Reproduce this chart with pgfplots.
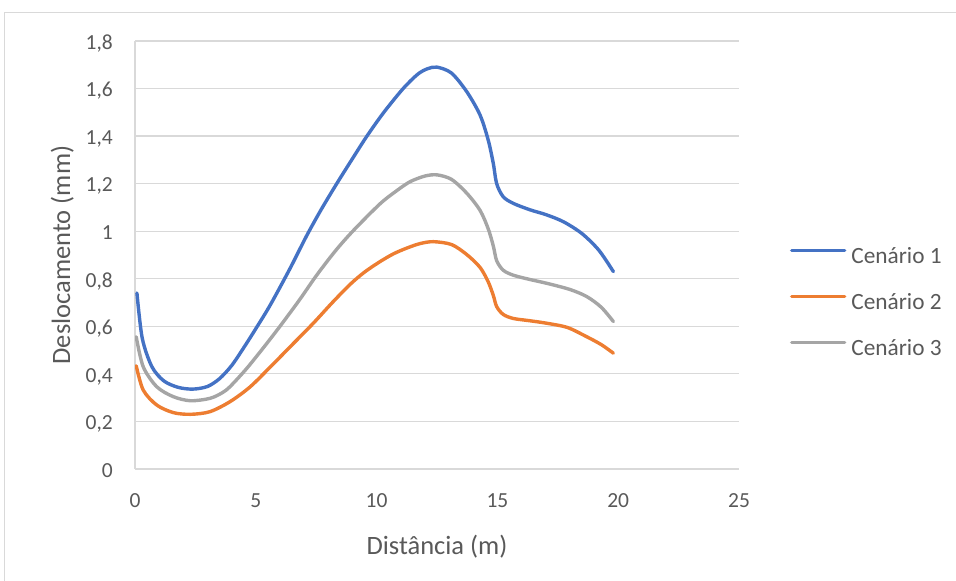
\documentclass[border=0pt]{standalone}
\usepackage{fontspec}
\setmainfont{Carlito}
\usepackage{pgfplots}
\pgfplotsset{compat=1.18}
\definecolor{serieA}{HTML}{4472C4}
\definecolor{serieB}{HTML}{ED7D31}
\definecolor{serieC}{HTML}{A5A5A5}
\definecolor{gridc}{HTML}{D9D9D9}
\definecolor{textc}{HTML}{595959}

\begin{document}
\begin{tikzpicture}[x=1bp,y=1bp]
\path[use as bounding box] (0,0) rectangle (956,581);
% chart area border
\draw[gridc, line width=1bp] (4.5,-2) -- (4.5,568.5) -- (960,568.5);
\begin{axis}[
  at={(135bp,112bp)}, anchor=south west,
  scale only axis, width=604bp, height=428bp,
  xmin=0, xmax=25, ymin=0, ymax=1.8,
  xtick={0,5,10,15,20,25},
  ytick={0,0.2,0.4,0.6,0.8,1,1.2,1.4,1.6,1.8},
  axis lines=left,
  axis line style={-, gridc, line width=1.2bp},
  major tick length=0pt,
  ymajorgrids,
  grid style={gridc, line width=1.2bp},
  /pgf/number format/assume math mode=true,
  /pgf/number format/use comma,
  tick label style={font=\fontsize{21.5bp}{25bp}\selectfont, text=textc, inner sep=0pt},
  yticklabel style={anchor=base east, xshift=-22bp, yshift=-8.3bp},
  xticklabel style={anchor=base, yshift=-39bp},
  xlabel={Distância (m)},
  ylabel={Deslocamento (mm)},
  label style={font=\fontsize{26.5bp}{30bp}\selectfont, text=textc, inner sep=0pt},
  x label style={at={(axis description cs:0.5,0)}, anchor=base, yshift=-86bp},
  y label style={at={(axis description cs:-0.1076,0.5)}, anchor=base},
  legend cell align=left,
  legend style={at={(1.0844,0.518)}, anchor=north west, draw=none, fill=none,
    inner sep=0pt, outer sep=0pt, row sep=25bp, column sep=5bp,
    font=\fontsize{23.3bp}{27bp}\selectfont, text=textc,
    nodes={inner sep=0pt, text height=16bp, text depth=5bp}},
  legend image code/.code={\draw[#1, line width=3.4bp] (0bp,7.5bp) -- (53bp,7.5bp);},
  every axis plot/.append style={line width=3.4bp, smooth, tension=0.5, line join=round, line cap=round, mark=none},
]
% Cenário 1
\addplot[serieA] coordinates {
 (0.08,0.74) (0.3,0.55) (0.7,0.43) (1.2,0.37) (1.8,0.343) (2.4,0.336)
 (3.0,0.347) (3.5,0.38) (4.0,0.435) (4.5,0.51) (5.0,0.59) (5.6,0.69)
 (6.4,0.84) (7.1,0.98) (7.7,1.09) (8.35,1.20) (9.0,1.305) (9.6,1.40)
 (10.3,1.50) (11.1,1.60) (11.7,1.66) (12.1,1.683) (12.5,1.69) (13.1,1.665)
 (13.73,1.587) (14.28,1.489) (14.62,1.383) (14.83,1.285) (14.97,1.20)
 (15.24,1.145) (15.66,1.117) (16.35,1.09) (17.0,1.07) (17.73,1.04) (18.5,0.99)
 (19.2,0.92) (19.8,0.83)
};
\addlegendentry{Cenário 1}
% Cenário 2
\addplot[serieB] coordinates {
 (0.05,0.434) (0.34,0.332) (0.9,0.269) (1.59,0.237) (2.3,0.23) (3.1,0.241)
 (3.93,0.283) (4.76,0.345) (5.59,0.428) (6.5,0.522) (7.38,0.613) (8.15,0.698)
 (8.9,0.776) (9.5,0.828) (10.14,0.872) (10.7,0.905) (11.25,0.929) (11.8,0.948)
 (12.35,0.956) (13.1,0.944) (13.73,0.902) (14.28,0.848) (14.62,0.787)
 (14.83,0.73) (14.97,0.683) (15.24,0.65) (15.66,0.633) (16.3,0.624)
 (17.04,0.613) (17.9,0.595) (18.7,0.556) (19.3,0.523) (19.8,0.487)
};
\addlegendentry{Cenário 2}
% Cenário 3
\addplot[serieC] coordinates {
 (0.05,0.556) (0.34,0.43) (0.9,0.346) (1.59,0.304) (2.3,0.287) (3.1,0.297)
 (3.6,0.32) (3.93,0.346) (4.6,0.42) (5.3,0.508) (6.0,0.60) (6.8,0.71)
 (7.52,0.815) (8.3,0.918) (9.04,1.003) (10.14,1.115) (10.8,1.168) (11.38,1.208)
 (12.0,1.232) (12.5,1.237) (13.1,1.218) (13.73,1.16) (14.28,1.088) (14.62,1.01)
 (14.83,0.938) (14.97,0.876) (15.24,0.836) (15.66,0.815) (16.3,0.798)
 (17.04,0.781) (18.0,0.755) (18.7,0.725) (19.3,0.68) (19.8,0.62)
};
\addlegendentry{Cenário 3}
\end{axis}
\end{tikzpicture}
\end{document}
